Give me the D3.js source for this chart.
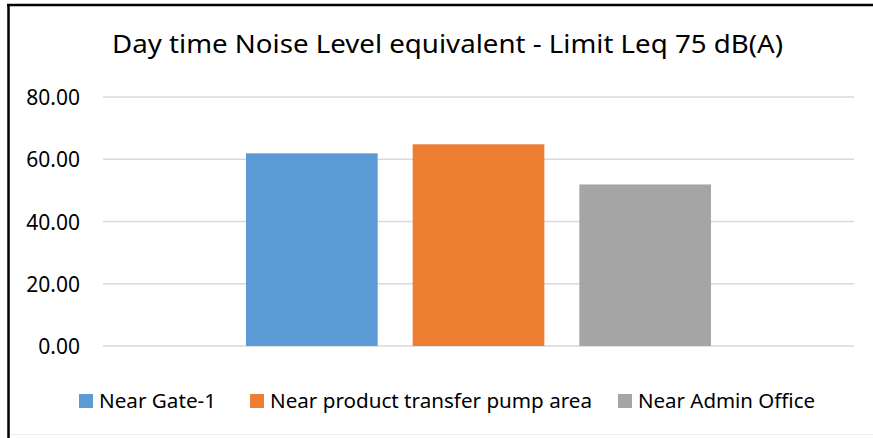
<!DOCTYPE html>
<html>
<head>
<meta charset="utf-8">
<script src="https://cdn.jsdelivr.net/npm/d3@7"></script>
<style>
  body { margin: 0; background: #fff; }
  text { font-family: "Noto Sans", "Open Sans", sans-serif; fill: #000; }
</style>
</head>
<body>
<div id="chart"></div>
<script>
// chart data
var category = ['Day time'];
var series = ['Near Gate-1', 'Near product transfer pump area', 'Near Admin Office'];
var values = [61.9, 64.8, 51.9];
var colors = ['#5b9bd5', '#ed7d31', '#a5a5a5'];
var yTicks = [0, 20, 40, 60, 80];
var title = 'Day time Noise Level equivalent - Limit Leq 75 dB(A)';

var W = 873, H = 438;
var m = {t: 97, b: 92, l: 103, r: 19};

var svg = d3.select('#chart').append('svg')
    .attr('width', W)
    .attr('height', H);

// frame
svg.append('rect').attr('x', 0).attr('y', 0).attr('width', W).attr('height', H).attr('fill', '#fff');
svg.append('line').attr('x1', 7).attr('x2', W).attr('y1', 5).attr('y2', 5)
    .attr('stroke', '#000').attr('stroke-width', 2.5);
svg.append('line').attr('x1', 8.5).attr('x2', 8.5).attr('y1', 4).attr('y2', H)
    .attr('stroke', '#000').attr('stroke-width', 2.5);
svg.append('line').attr('x1', 10).attr('x2', W).attr('y1', 434.5).attr('y2', 434.5)
    .attr('stroke', '#ececec').attr('stroke-width', 1);

// title
svg.append('text')
    .attr('x', 447.5).attr('y', 53)
    .attr('text-anchor', 'middle')
    .attr('font-size', 25)
    .attr('textLength', 671).attr('lengthAdjust', 'spacingAndGlyphs')
    .text(title);

var g = svg.append('g');

// scales
var y = d3.scaleLinear().domain([0, 80]).range([H - m.b, m.t]);
var x0 = d3.scaleBand().domain(category).range([m.l, W - m.r])
    .paddingInner(0).paddingOuter(0.3075);
var x1 = d3.scaleBand().domain(series).range([0, x0.bandwidth()])
    .paddingInner(0.21).paddingOuter(0);

// gridlines
g.append('g')
    .selectAll('line').data(yTicks).enter().append('line')
    .attr('x1', m.l).attr('x2', W - m.r)
    .attr('y1', function(d) { return y(d); })
    .attr('y2', function(d) { return y(d); })
    .attr('stroke', '#d9d9d9').attr('stroke-width', 1.5);

// y axis labels
var yAxis = g.append('g')
    .attr('transform', 'translate(80,0)')
    .call(d3.axisLeft(y).tickValues(yTicks).tickSize(0).tickPadding(0)
        .tickFormat(d3.format('.2f')));
yAxis.select('.domain').remove();
yAxis.selectAll('text')
    .attr('font-size', 21)
    .attr('font-family', '"Noto Sans", sans-serif')
    .attr('fill', '#000')
    .attr('dy', '0.36em');

// bars
g.append('g').selectAll('rect').data(series).enter().append('rect')
    .attr('x', function(d) { return x0(category[0]) + x1(d); })
    .attr('y', function(d, i) { return y(values[i]); })
    .attr('width', x1.bandwidth())
    .attr('height', function(d, i) { return y(0) - y(values[i]); })
    .attr('fill', function(d, i) { return colors[i]; });

// legend
var legX = [79, 250, 618];
var legW = [117, 322, 177];
var leg = svg.append('g').selectAll('g').data(series).enter().append('g')
    .attr('transform', function(d, i) { return 'translate(' + legX[i] + ',394)'; });
leg.append('rect')
    .attr('width', 14).attr('height', 14)
    .attr('fill', function(d, i) { return colors[i]; });
leg.append('text')
    .attr('x', 20).attr('y', 14)
    .attr('font-size', 20)
    .attr('textLength', function(d, i) { return legW[i]; })
    .attr('lengthAdjust', 'spacingAndGlyphs')
    .text(function(d) { return d; });
</script>
</body>
</html>
